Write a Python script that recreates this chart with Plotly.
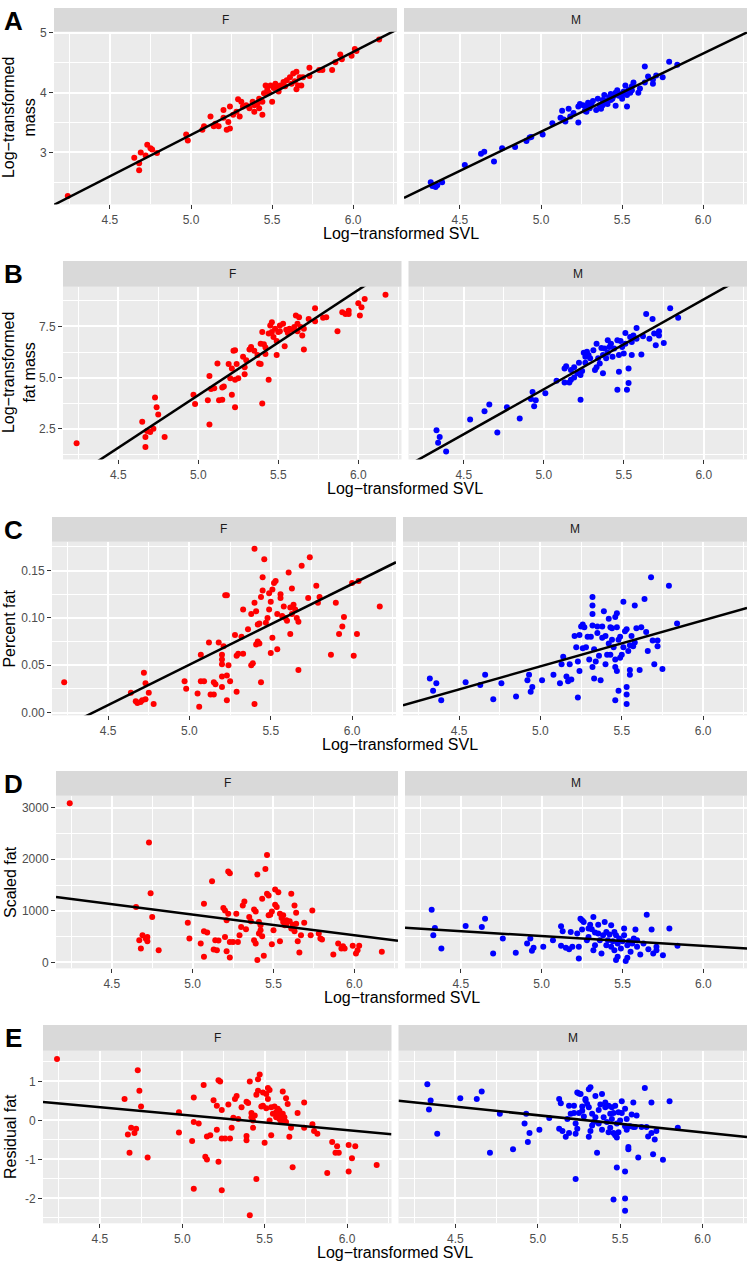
import plotly.graph_objects as go

# ---------------- data ----------------
SEXES = ["F", "M"]
SEX_COLORS = {"F": "#FF0000", "M": "#0000FF"}
PANEL_LETTERS = ["A", "B", "C", "D", "E"]
Y_TITLES = ["Log−transformed<br>mass", "Log−transformed<br>fat mass",
            "Percent fat", "Scaled fat", "Residual fat"]
X_TITLE = "Log−transformed SVL"

X_TICKS = [4.5, 5.0, 5.5, 6.0]
X_TICK_LABELS = ["4.5", "5.0", "5.5", "6.0"]
X_MINOR = [4.25, 4.75, 5.25, 5.75, 6.25]
X_RANGE = [4.155, 6.27]

Y_RANGES = [[2.13, 5.02], [1.0, 9.44], [-0.003, 0.1805], [-115, 3231], [-2.64, 1.79]]
Y_TICKS = [[3, 4, 5], [2.5, 5.0, 7.5], [0, 0.05, 0.10, 0.15], [0, 1000, 2000, 3000], [-2, -1, 0, 1]]
Y_TICK_LABELS = [["3", "4", "5"], ["2.5", "5.0", "7.5"], ["0.00", "0.05", "0.10", "0.15"],
                 ["0", "1000", "2000", "3000"], ["-2", "-1", "0", "1"]]
Y_MINOR = [[2.5, 3.5, 4.5], [1.25, 3.75, 6.25, 8.75], [0.025, 0.075, 0.125, 0.175],
           [500, 1500, 2500], [-2.5, -1.5, -0.5, 0.5, 1.5]]

FIT_SLOPE_F = [1.388, 5.146, 0.0853, -401.0, -0.391]
FIT_INTERCEPT_F = [-3.644, -21.59, -0.376, 2932.0, 2.10]
FIT_SLOPE_M = [1.311, 4.396, 0.0486, -189.2, -0.440]
FIT_INTERCEPT_M = [-3.208, -17.55, -0.1942, 1456.0, 2.334]

A_F = [(4.24,2.27),(4.65,2.91),(4.68,2.82),(4.68,2.70),(4.69,3.00),(4.72,2.95),(4.73,3.13),(4.75,3.07),
       (4.76,3.05),(4.79,2.99),(4.97,3.30),(4.98,3.20),(5.07,3.38),(5.08,3.44),(5.12,3.60),(5.14,3.44),
       (5.15,3.48),(5.17,3.44),(5.20,3.58),(5.20,3.71),(5.22,3.38),(5.23,3.51),(5.24,3.40),(5.24,3.77),
       (5.26,3.63),(5.28,3.68),(5.29,3.89),(5.30,3.60),(5.31,3.85),(5.32,3.77),(5.34,3.79),(5.36,3.74),
       (5.38,3.85),(5.39,3.79),(5.39,3.68),(5.41,3.82),(5.42,3.90),(5.42,3.74),(5.44,3.63),(5.44,3.85),
       (5.45,3.99),(5.46,4.12),(5.47,4.04),(5.47,4.10),(5.48,4.00),(5.49,4.12),(5.50,3.85),(5.51,4.08),
       (5.52,4.15),(5.53,4.10),(5.54,4.02),(5.55,4.12),(5.57,4.18),(5.58,4.11),(5.59,4.21),(5.61,4.26),
       (5.62,4.15),(5.63,4.32),(5.64,4.19),(5.65,4.35),(5.65,4.06),(5.66,4.12),(5.67,4.26),(5.68,4.12),
       (5.69,4.26),(5.73,4.42),(5.73,4.28),(5.79,4.38),(5.81,4.38),(5.87,4.38),(5.89,4.51),(5.92,4.64),
       (5.93,4.56),(5.99,4.62),(6.01,4.73),(6.02,4.70),(6.16,4.89)]
A_M = [(4.32,2.50),(4.33,2.44),(4.35,2.42),(4.36,2.45),(4.39,2.50),(4.53,2.79),(4.63,2.98),(4.65,3.01),
       (4.71,2.85),(4.76,3.07),(4.84,3.09),(4.91,3.19),(4.93,3.25),(4.94,3.26),(5.01,3.30),(5.07,3.49),
       (5.12,3.58),(5.13,3.70),(5.14,3.55),(5.15,3.52),(5.17,3.73),(5.18,3.60),(5.20,3.66),(5.23,3.50),
       (5.23,3.77),(5.24,3.81),(5.26,3.79),(5.27,3.70),(5.28,3.77),(5.29,3.83),(5.30,3.74),(5.31,3.81),
       (5.32,3.86),(5.34,3.71),(5.35,3.90),(5.36,3.79),(5.37,3.73),(5.38,3.88),(5.39,3.96),(5.40,3.86),
       (5.41,3.81),(5.42,3.93),(5.43,3.98),(5.43,3.88),(5.44,3.90),(5.46,3.78),(5.46,4.00),(5.47,4.04),
       (5.48,3.95),(5.49,3.98),(5.50,3.90),(5.51,4.02),(5.52,4.12),(5.53,3.77),(5.53,3.96),(5.54,4.05),
       (5.55,4.00),(5.56,4.11),(5.57,4.17),(5.60,4.00),(5.61,4.07),(5.64,4.17),(5.64,4.44),(5.66,4.27),
       (5.69,4.15),(5.69,4.22),(5.71,4.29),(5.75,4.26),(5.79,4.52),(5.84,4.47),(5.28,3.68),(5.38,3.79),
       (5.45,3.95),(5.50,3.96),(5.56,4.04)]

B_F = [(4.24,1.79),(4.65,2.84),(4.67,2.10),(4.67,1.61),(4.68,2.39),(4.70,2.34),(4.72,2.50),(4.73,4.03),
       (4.74,3.55),(4.75,3.19),(4.79,2.10),(4.97,4.16),(4.98,3.71),(5.06,3.89),(5.07,5.08),(5.07,2.71),
       (5.08,4.44),(5.10,4.48),(5.12,5.69),(5.13,3.89),(5.15,3.92),(5.15,4.52),(5.16,4.56),(5.19,5.66),
       (5.20,4.97),(5.21,5.45),(5.21,4.16),(5.22,6.31),(5.23,4.89),(5.23,3.55),(5.23,6.34),(5.24,5.66),
       (5.25,4.97),(5.28,6.02),(5.29,5.16),(5.29,5.50),(5.30,5.85),(5.32,6.37),(5.33,6.50),(5.35,6.31),
       (5.37,6.10),(5.38,5.69),(5.39,5.66),(5.39,6.66),(5.40,3.73),(5.40,7.23),(5.41,6.63),(5.42,6.47),
       (5.42,6.15),(5.44,4.89),(5.44,7.15),(5.45,7.55),(5.46,7.71),(5.46,7.23),(5.47,6.98),(5.48,7.39),
       (5.49,6.79),(5.49,6.10),(5.50,7.23),(5.51,7.55),(5.51,7.27),(5.53,7.63),(5.54,6.53),(5.55,7.34),
       (5.56,7.18),(5.57,7.39),(5.59,7.34),(5.60,7.47),(5.61,8.03),(5.62,7.27),(5.62,7.63),(5.63,7.95),
       (5.64,7.47),(5.65,7.06),(5.66,7.39),(5.66,6.37),(5.69,7.87),(5.73,7.76),(5.73,8.39),(5.78,7.92),
       (5.80,7.95),(5.87,7.27),(5.90,8.19),(5.92,8.11),(5.94,8.27),(5.94,8.11),(6.00,8.63),(6.01,8.03),
       (6.02,8.44),(6.04,8.84),(6.17,9.05)]
B_M = [(4.33,2.42),(4.35,2.10),(4.34,1.81),(4.39,1.39),(4.54,2.95),(4.63,3.35),(4.66,3.68),(4.71,2.31),
       (4.77,3.55),(4.85,3.00),(4.92,3.95),(4.93,4.29),(4.94,3.60),(4.95,3.89),(5.01,4.23),(5.08,4.84),
       (5.13,4.76),(5.13,5.45),(5.14,5.56),(5.16,4.76),(5.17,4.89),(5.17,5.37),(5.19,5.50),(5.19,5.00),
       (5.21,5.21),(5.22,5.73),(5.23,3.92),(5.23,5.13),(5.24,5.32),(5.25,6.21),(5.26,6.02),(5.26,5.73),
       (5.27,6.26),(5.28,6.10),(5.29,5.94),(5.31,6.34),(5.32,5.37),(5.33,6.66),(5.33,5.50),(5.34,5.94),
       (5.35,5.69),(5.36,6.45),(5.37,5.21),(5.37,6.10),(5.38,6.42),(5.39,5.94),(5.40,6.82),(5.40,6.21),
       (5.41,6.50),(5.42,6.66),(5.43,6.02),(5.44,6.42),(5.46,4.40),(5.46,6.82),(5.47,6.10),(5.47,5.29),
       (5.48,6.79),(5.49,6.50),(5.50,6.18),(5.51,7.18),(5.51,6.66),(5.52,4.40),(5.53,4.73),(5.53,5.45),
       (5.54,6.98),(5.55,6.74),(5.55,6.10),(5.56,7.06),(5.58,7.42),(5.58,6.90),(5.61,6.13),(5.62,7.02),
       (5.64,8.11),(5.66,6.90),(5.68,7.87),(5.69,7.15),(5.70,6.58),(5.72,7.27),(5.72,7.06),(5.75,6.69),
       (5.79,8.39),(5.84,7.92)]

C_F = [(4.23,0.032),(4.64,0.021),(4.67,0.012),(4.68,0.010),(4.70,0.011),(4.71,0.013),(4.72,0.042),
       (4.73,0.014),(4.73,0.031),(4.75,0.021),(4.78,0.009),(4.97,0.033),(4.98,0.025),(5.05,0.020),
       (5.06,0.006),(5.07,0.061),(5.07,0.033),(5.09,0.033),(5.12,0.074),(5.13,0.019),(5.15,0.032),
       (5.15,0.019),(5.16,0.030),(5.18,0.074),(5.20,0.051),(5.20,0.038),(5.20,0.056),(5.20,0.061),
       (5.20,0.027),(5.21,0.070),(5.22,0.124),(5.23,0.039),(5.23,0.124),(5.23,0.013),(5.24,0.050),
       (5.25,0.033),(5.28,0.082),(5.29,0.022),(5.29,0.060),(5.30,0.062),(5.32,0.080),(5.33,0.109),
       (5.33,0.062),(5.36,0.088),(5.38,0.050),(5.38,0.104),(5.39,0.052),(5.40,0.116),(5.40,0.009),
       (5.40,0.173),(5.41,0.072),(5.41,0.107),(5.42,0.093),(5.42,0.075),(5.43,0.094),(5.43,0.073),
       (5.44,0.122),(5.44,0.032),(5.45,0.143),(5.45,0.129),(5.46,0.162),(5.47,0.095),(5.48,0.100),
       (5.49,0.126),(5.49,0.109),(5.50,0.063),(5.50,0.117),(5.51,0.079),(5.51,0.130),(5.52,0.137),
       (5.53,0.139),(5.54,0.104),(5.54,0.067),(5.56,0.125),(5.56,0.121),(5.57,0.102),(5.58,0.112),
       (5.59,0.100),(5.60,0.097),(5.61,0.148),(5.62,0.083),(5.62,0.111),(5.63,0.104),(5.63,0.131),
       (5.64,0.114),(5.65,0.109),(5.66,0.100),(5.67,0.045),(5.67,0.096),(5.69,0.155),(5.73,0.121),
       (5.74,0.164),(5.78,0.134),(5.79,0.116),(5.80,0.122),(5.87,0.061),(5.90,0.116),(5.92,0.083),
       (5.94,0.091),(5.95,0.101),(6.00,0.137),(6.01,0.060),(6.03,0.083),(6.04,0.139),(6.17,0.112)]
C_M = [(4.32,0.036),(4.36,0.031),(4.34,0.023),(4.39,0.013),(4.54,0.032),(4.63,0.029),(4.66,0.040),
       (4.71,0.014),(4.76,0.031),(4.85,0.017),(4.92,0.034),(4.93,0.040),(4.94,0.022),(4.95,0.027),
       (5.01,0.034),(5.08,0.040),(5.12,0.031),(5.13,0.051),(5.14,0.059),(5.16,0.038),(5.17,0.033),
       (5.18,0.051),(5.19,0.035),(5.21,0.081),(5.22,0.069),(5.23,0.054),(5.23,0.016),(5.24,0.044),
       (5.24,0.082),(5.25,0.091),(5.26,0.093),(5.26,0.068),(5.27,0.090),(5.28,0.069),(5.29,0.080),
       (5.30,0.056),(5.31,0.080),(5.32,0.122),(5.32,0.113),(5.32,0.104),(5.32,0.092),(5.32,0.048),
       (5.33,0.036),(5.33,0.067),(5.34,0.054),(5.35,0.084),(5.35,0.091),(5.36,0.060),(5.37,0.034),
       (5.38,0.079),(5.38,0.091),(5.39,0.107),(5.40,0.051),(5.40,0.081),(5.41,0.061),(5.42,0.099),
       (5.42,0.073),(5.43,0.090),(5.43,0.061),(5.44,0.077),(5.44,0.089),(5.45,0.069),(5.46,0.056),
       (5.46,0.101),(5.46,0.048),(5.47,0.090),(5.47,0.105),(5.47,0.044),(5.48,0.023),(5.48,0.077),
       (5.46,0.013),(5.49,0.058),(5.49,0.080),(5.50,0.061),(5.51,0.069),(5.51,0.117),(5.52,0.086),
       (5.53,0.009),(5.53,0.027),(5.53,0.019),(5.53,0.088),(5.54,0.065),(5.55,0.040),(5.55,0.045),
       (5.55,0.071),(5.56,0.081),(5.57,0.070),(5.58,0.113),(5.58,0.074),(5.59,0.089),(5.61,0.045),
       (5.62,0.090),(5.64,0.120),(5.65,0.085),(5.66,0.065),(5.68,0.143),(5.69,0.076),(5.70,0.051),
       (5.72,0.076),(5.72,0.070),(5.75,0.046),(5.79,0.134),(5.84,0.094)]

D_F = [(4.24,3083),(4.65,1073),(4.68,270),(4.67,430),(4.69,527),(4.71,462),(4.72,495),(4.73,2325),
       (4.74,1342),(4.75,880),(4.72,411),(4.79,238),(4.97,771),(4.98,462),(5.05,366),(5.07,1137),
       (5.07,109),(5.07,604),(5.09,578),(5.12,1573),(5.13,250),(5.14,430),(5.15,238),(5.16,424),
       (5.19,1053),(5.20,1008),(5.20,495),(5.21,816),(5.21,218),(5.22,1760),(5.23,1728),(5.22,944),
       (5.23,398),(5.23,96),(5.25,398),(5.27,944),(5.28,398),(5.29,527),(5.30,687),(5.31,1105),
       (5.32,1182),(5.33,642),(5.35,880),(5.36,796),(5.38,430),(5.38,1028),(5.39,366),(5.39,989),
       (5.40,45),(5.40,1702),(5.41,783),(5.41,559),(5.42,719),(5.42,623),(5.43,507),(5.43,1233),
       (5.44,128),(5.45,1811),(5.46,1330),(5.46,2081),(5.47,912),(5.47,1297),(5.48,925),(5.49,353),
       (5.49,989),(5.50,623),(5.51,1117),(5.51,1413),(5.52,1073),(5.53,1362),(5.54,944),(5.54,411),
       (5.55,861),(5.56,912),(5.56,783),(5.57,719),(5.58,816),(5.58,732),(5.60,796),(5.61,1330),
       (5.61,655),(5.62,732),(5.63,604),(5.63,1105),(5.64,751),(5.64,963),(5.65,411),(5.66,193),
       (5.67,527),(5.69,771),(5.74,1008),(5.73,527),(5.78,559),(5.79,462),(5.80,443),(5.87,154),
       (5.90,366),(5.92,270),(5.93,315),(5.94,270),(5.99,321),(6.01,173),(6.02,238),(6.03,321),
       (6.17,206)]
D_M = [(4.32,1021),(4.34,668),(4.33,527),(4.38,270),(4.53,707),(4.63,687),(4.65,848),(4.70,173),
       (4.76,462),(4.84,186),(4.91,366),(4.93,462),(4.94,225),(4.95,283),(5.01,302),(5.07,430),
       (5.12,700),(5.13,604),(5.12,321),(5.15,283),(5.17,257),(5.18,591),(5.19,302),(5.22,559),
       (5.23,77),(5.23,302),(5.24,848),(5.25,816),(5.25,636),(5.26,783),(5.28,430),(5.29,655),
       (5.29,495),(5.30,732),(5.31,642),(5.32,238),(5.32,880),(5.33,334),(5.33,578),(5.35,559),
       (5.35,732),(5.36,430),(5.37,173),(5.38,527),(5.39,783),(5.40,334),(5.40,591),(5.41,430),
       (5.42,540),(5.43,302),(5.43,719),(5.44,411),(5.45,238),(5.45,591),(5.46,45),(5.46,527),
       (5.47,366),(5.47,109),(5.48,462),(5.49,270),(5.50,411),(5.51,655),(5.51,527),(5.52,26),
       (5.53,90),(5.53,334),(5.54,411),(5.55,206),(5.56,366),(5.57,462),(5.58,636),(5.59,302),
       (5.59,430),(5.61,154),(5.63,366),(5.65,925),(5.66,257),(5.68,636),(5.69,173),(5.71,302),
       (5.71,238),(5.75,141),(5.79,655),(5.84,321)]

E_F = [(4.24,1.58),(4.65,0.55),(4.67,-0.36),(4.68,-0.83),(4.69,-0.19),(4.71,-0.32),(4.72,-0.21),
       (4.73,1.29),(4.74,0.76),(4.75,0.36),(4.79,-0.95),(4.98,0.21),(4.98,-0.31),(5.06,-0.53),
       (5.07,0.59),(5.07,-0.04),(5.07,-1.75),(5.10,-0.08),(5.13,0.91),(5.14,-0.93),(5.15,-0.41),
       (5.15,-1.00),(5.17,-0.38),(5.19,0.52),(5.21,-0.24),(5.21,0.38),(5.22,-1.06),(5.22,1.03),
       (5.23,1.00),(5.24,-0.46),(5.24,-1.79),(5.24,0.27),(5.26,-0.46),(5.28,0.41),(5.29,-0.46),
       (5.30,-0.19),(5.31,0.07),(5.32,0.55),(5.33,0.63),(5.34,0.04),(5.36,0.34),(5.39,0.48),
       (5.39,-0.40),(5.39,-0.51),(5.40,0.45),(5.41,1.00),(5.41,-2.43),(5.42,0.08),(5.42,0.19),
       (5.43,0.00),(5.43,-0.19),(5.44,0.13),(5.45,0.66),(5.45,-1.50),(5.46,1.06),(5.46,0.76),
       (5.47,1.18),(5.48,0.36),(5.49,0.72),(5.49,0.38),(5.50,-0.57),(5.51,0.68),(5.51,0.31),
       (5.52,0.83),(5.52,0.55),(5.53,0.00),(5.53,0.78),(5.54,-0.38),(5.54,0.34),(5.55,0.17),
       (5.56,0.36),(5.57,0.21),(5.57,0.08),(5.58,0.30),(5.58,0.17),(5.59,0.25),(5.59,0.04),
       (5.60,0.13),(5.60,-0.04),(5.61,0.74),(5.61,0.17),(5.62,0.00),(5.62,0.08),(5.63,0.57),
       (5.63,-0.04),(5.64,0.42),(5.65,-0.42),(5.66,-0.19),(5.67,-1.20),(5.70,0.19),(5.74,0.46),
       (5.74,-0.19),(5.79,-0.10),(5.80,-0.27),(5.82,-0.34),(5.88,-1.35),(5.91,-0.55),(5.93,-0.83),
       (5.94,-0.66),(5.95,-0.83),(6.01,-0.63),(6.01,-1.31),(6.03,-0.97),(6.05,-0.66),(6.18,-1.14)]
E_M = [(4.33,0.93),(4.35,0.51),(4.34,0.28),(4.39,-0.34),(4.53,0.57),(4.63,0.55),(4.66,0.74),
       (4.71,-0.83),(4.77,0.17),(4.85,-0.74),(4.92,-0.08),(4.93,0.17),(4.94,-0.55),(4.95,-0.32),
       (5.01,-0.24),(5.07,0.06),(5.13,-0.21),(5.13,0.55),(5.14,0.44),(5.15,-0.27),(5.17,-0.42),
       (5.18,0.04),(5.19,0.38),(5.19,-0.32),(5.20,0.17),(5.22,0.38),(5.22,0.19),(5.23,-0.34),
       (5.23,-0.08),(5.23,-1.50),(5.24,-0.21),(5.24,0.72),(5.25,0.69),(5.25,0.19),(5.26,0.68),
       (5.27,0.36),(5.27,0.25),(5.28,0.10),(5.29,0.55),(5.29,0.52),(5.30,0.42),(5.31,0.80),
       (5.31,0.34),(5.31,-0.42),(5.32,-0.27),(5.32,0.85),(5.33,0.17),(5.33,-0.13),(5.34,-0.04),
       (5.35,0.08),(5.35,0.63),(5.36,-0.83),(5.37,0.27),(5.37,-0.08),(5.38,0.41),(5.39,0.68),
       (5.39,-0.24),(5.40,0.08),(5.41,0.34),(5.41,0.46),(5.42,-0.04),(5.43,-0.30),(5.43,0.38),
       (5.44,0.17),(5.44,-0.19),(5.45,0.34),(5.45,0.04),(5.46,-0.32),(5.46,0.19),(5.47,-0.38),
       (5.47,0.38),(5.48,-1.21),(5.48,-0.44),(5.46,-2.03),(5.48,-0.08),(5.49,0.21),(5.49,-0.30),
       (5.50,0.00),(5.51,0.49),(5.51,0.19),(5.53,0.30),(5.53,-0.15),(5.53,-2.32),(5.53,-1.31),
       (5.53,-2.00),(5.54,0.04),(5.54,-0.24),(5.55,-0.68),(5.55,-0.74),(5.56,-0.15),(5.57,0.15),
       (5.58,-0.17),(5.58,0.46),(5.59,-0.17),(5.60,0.13),(5.61,-0.95),(5.63,-0.17),(5.65,0.83),
       (5.66,-0.17),(5.67,-0.41),(5.69,0.46),(5.69,-0.32),(5.70,-0.87),(5.71,-0.49),(5.72,-0.27),
       (5.76,-1.01),(5.80,0.49),(5.85,-0.19)]

POINTS = [(A_F, A_M), (B_F, B_M), (C_F, C_M), (D_F, D_M), (E_F, E_M)]

# ---------------- layout geometry (pixels) ----------------
W, H = 748, 1268
RIGHT = 747
GAP = 7
# (strip_top, panel_top, panel_bottom, panel_left)
ROW_GEOM = [(2, 26, 200, 54), (257, 283, 457, 63), (515, 540, 715, 52),
            (771, 796, 970, 56), (1027, 1053, 1227, 43)]

FONT = "Liberation Sans, Arial, sans-serif"
TICK_FONT = dict(family=FONT, size=12, color="#4D4D4D")
BG = "#EBEBEB"
STRIP = "#D9D9D9"


def px_x(v):
    return v / W


def px_y(v):
    return 1 - v / H


fig = go.Figure()
layout = dict(
    width=W, height=H,
    margin=dict(l=0, r=0, t=0, b=0),
    paper_bgcolor="white",
    plot_bgcolor=BG,
    showlegend=False,
    font=dict(family=FONT),
)
shapes = []
annotations = []

for r in range(5):
    st, pt, pb, L = ROW_GEOM[r]
    w = (RIGHT - L - GAP) / 2.0
    for c, sex in enumerate(SEXES):
        idx = r * 2 + c + 1
        x0 = L + c * (w + GAP)
        x1 = x0 + w
        xa = "xaxis" if idx == 1 else f"xaxis{idx}"
        ya = "yaxis" if idx == 1 else f"yaxis{idx}"
        xref = "x" if idx == 1 else f"x{idx}"
        yref = "y" if idx == 1 else f"y{idx}"

        layout[xa] = dict(
            domain=[px_x(x0), px_x(x1)], anchor=yref, range=X_RANGE,
            tickmode="array", tickvals=X_TICKS, ticktext=X_TICK_LABELS,
            ticks="outside", ticklen=4, tickwidth=1, tickcolor="#333333",
            tickfont=TICK_FONT, showgrid=True, gridcolor="white", gridwidth=2,
            minor=dict(tickmode="array", tickvals=X_MINOR, showgrid=True,
                       gridcolor="white", gridwidth=1, ticks=""),
            zeroline=False, showline=False, fixedrange=True,
        )
        layout[ya] = dict(
            domain=[px_y(pb), px_y(pt)], anchor=xref, range=Y_RANGES[r],
            tickmode="array", tickvals=Y_TICKS[r], ticktext=Y_TICK_LABELS[r],
            ticks="outside" if c == 0 else "", ticklen=4, tickwidth=1, tickcolor="#333333",
            showticklabels=(c == 0), tickfont=TICK_FONT,
            showgrid=True, gridcolor="white", gridwidth=2,
            minor=dict(tickmode="array", tickvals=Y_MINOR[r], showgrid=True,
                       gridcolor="white", gridwidth=1, ticks=""),
            zeroline=False, showline=False, fixedrange=True,
        )

        pts = POINTS[r][c]
        xs = [p[0] for p in pts]
        ys = [p[1] for p in pts]
        fig.add_trace(go.Scatter(
            x=xs, y=ys, mode="markers", xaxis=xref, yaxis=yref,
            marker=dict(color=SEX_COLORS[sex], size=6, line=dict(width=0)),
            hoverinfo="skip",
        ))
        slope = FIT_SLOPE_F[r] if sex == "F" else FIT_SLOPE_M[r]
        icpt = FIT_INTERCEPT_F[r] if sex == "F" else FIT_INTERCEPT_M[r]
        fig.add_trace(go.Scatter(
            x=X_RANGE, y=[icpt + slope * X_RANGE[0], icpt + slope * X_RANGE[1]],
            mode="lines", xaxis=xref, yaxis=yref,
            line=dict(color="black", width=2.5), hoverinfo="skip",
        ))

        # strip
        shapes.append(dict(type="rect", xref="paper", yref="paper",
                           x0=px_x(x0), x1=px_x(x1), y0=px_y(pt), y1=px_y(st),
                           fillcolor=STRIP, line=dict(width=0), layer="below"))
        annotations.append(dict(text=sex, xref="paper", yref="paper",
                                x=px_x((x0 + x1) / 2), y=px_y((st + pt) / 2),
                                xanchor="center", yanchor="middle", showarrow=False,
                                font=dict(family=FONT, size=12, color="#1A1A1A")))

    # panel letter
    annotations.append(dict(text=f"<b>{PANEL_LETTERS[r]}</b>", xref="paper", yref="paper",
                            x=px_x(14), y=px_y(st + 13), xanchor="center", yanchor="middle",
                            showarrow=False, font=dict(family=FONT, size=26, color="black")))
    # y title
    annotations.append(dict(text=Y_TITLES[r], xref="paper", yref="paper",
                            x=px_x(19 if "<br>" in Y_TITLES[r] else 10), y=px_y((pt + pb) / 2),
                            xanchor="center", yanchor="middle", textangle=-90,
                            showarrow=False, font=dict(family=FONT, size=16, color="black")))
    # x title
    annotations.append(dict(text=X_TITLE, xref="paper", yref="paper",
                            x=px_x((L + RIGHT) / 2), y=px_y(pb + 29),
                            xanchor="center", yanchor="middle",
                            showarrow=False, font=dict(family=FONT, size=16, color="black")))

layout["shapes"] = shapes
layout["annotations"] = annotations
fig.update_layout(**layout)
fig.write_html("out.html",
               config={"displayModeBar": False, "staticPlot": True},
               post_script="document.body.style.margin='0';document.body.style.overflow='hidden';")
